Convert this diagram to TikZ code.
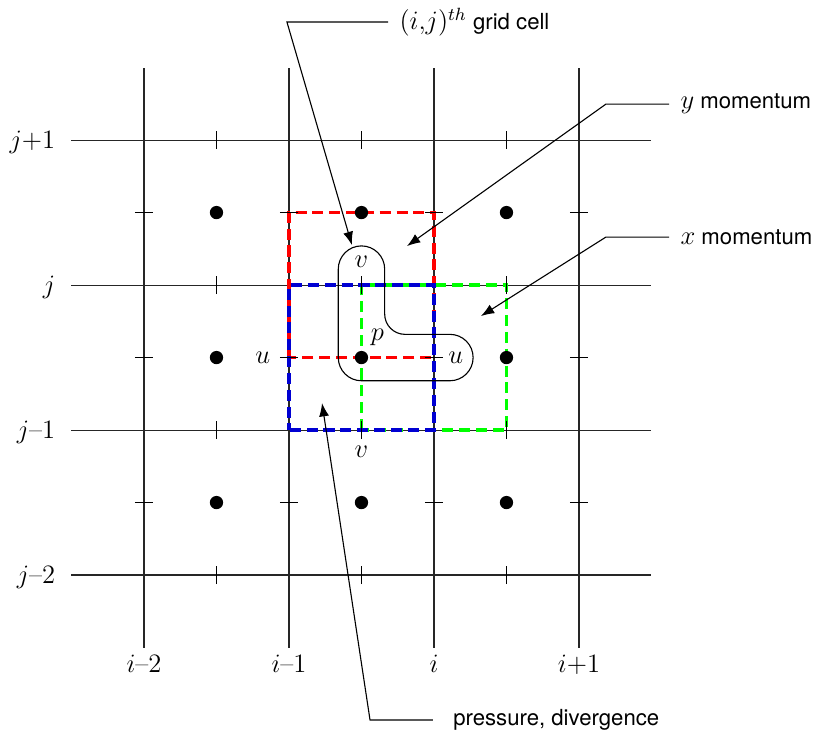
\documentclass[tikz,border=0pt]{standalone}
\usepackage{fontspec}
\newfontfamily\calloutfont{TeX Gyre Heros}
\usetikzlibrary{positioning, arrows.meta}
\definecolor{cellblue}{RGB}{0,0,210}

\begin{document}
\begin{tikzpicture}[
    x=2.3cm, y=2.3cm,
    gridline/.style={line width=0.5pt, black!85},
    tick_mark/.style={line width=0.7pt},
    site/.style={circle, fill, minimum size=6pt, inner sep=0pt},
    cell/.style={line width=1.6pt, dash pattern=on 5pt off 2.6pt},
    ymom_cell/.style={cell, red},
    xmom_cell/.style={cell, green},
    pres_cell/.style={cell, cellblue, dash phase=2pt},
    stencil/.style={line width=0.5pt},
    leader/.style={-{Latex[length=6pt, width=4.5pt]}, line width=0.5pt},
    callout/.style={font=\calloutfont, inner xsep=5pt, inner ysep=1pt, anchor=west},
    index_label/.style={font=\large, inner sep=0pt},
    var_label/.style={font=\large, inner sep=0pt}
]
    \useasboundingbox (-0.993,-1.110) rectangle (4.683,3.966);

    % --- GRID LINES ---
    \foreach \k in {0,...,3} {
        \draw[gridline] (\k,-0.5) -- (\k,3.5);
        \draw[gridline] (-0.5,\k) -- (3.5,\k);
    }

    % --- STAGGERED CELLS: y momentum, x momentum, pressure ---
    \draw[ymom_cell] (1,1.5) rectangle (2,2.5);
    \draw[xmom_cell] (1.5,1) rectangle (2.5,2);
    \draw[pres_cell] (1,1) rectangle (2,2);

    % --- TICKS at the cell faces ---
    \foreach \k in {0,...,3} {
        \foreach \m in {0,1,2} {
            \draw[tick_mark] ({\k-0.062},{\m+0.5}) -- ({\k+0.062},{\m+0.5});
            \draw[tick_mark] ({\m+0.5},{\k-0.062}) -- ({\m+0.5},{\k+0.062});
        }
    }

    % --- CELL CENTRES ---
    \foreach \k in {0,1,2}
        \foreach \m in {0,1,2}
            \node[site] (S\k\m) at ({\k+0.5},{\m+0.5}) {};

    % --- STENCIL OUTLINE (v, p, u) ---
    \draw[stencil] (1.34,2.11) arc[start angle=180, end angle=0, radius=0.16]
        -- (1.66,1.80) arc[start angle=180, end angle=270, radius=0.14]
        -- (2.11,1.66) arc[start angle=90, end angle=-90, radius=0.16]
        -- (1.5,1.34) arc[start angle=270, end angle=180, radius=0.16] -- cycle;

    % --- VARIABLE LABELS ---
    \node[var_label] (vN) at (1.5,2.16) {$v$};
    \node[var_label] (vS) at (1.5,0.85) {$v$};
    \node[var_label] (uW) at (0.82,1.5) {$u$};
    \node[var_label] (uE) at (2.15,1.5) {$u$};
    \node[var_label] (pC) at (1.61,1.64) {$p$};

    % --- INDEX LABELS ---
    \foreach \k/\txt in {0/{$i$--2}, 1/{$i$--1}, 2/{$i$}, 3/{$i$+1}}
        \node[index_label, anchor=base] (col\k) at (\k,-0.675) {\txt};
    \foreach \k/\txt in {0/{$j$--2}, 1/{$j$--1}, 2/{$j$}, 3/{$j$+1}}
        \node[index_label, anchor=base east] (row\k) at (-0.61,{\k-0.06}) {\txt};

    % --- CALLOUTS ---
    \node[callout] (cellTxt) at (1.683,3.814) {{\large$(i{,}j)^{th}$} grid cell};
    \coordinate (cellKink) at (0.986,3.814);
    \coordinate (cellTip) at (1.434,2.276);
    \draw[leader] (cellTxt.west) -- (cellKink) -- (cellTip);

    \node[callout] (ymomTxt) at (3.621,3.248) {{\large$y$} momentum};
    \coordinate (ymomKink) at (3.186,3.248);
    \coordinate (ymomTip) at (1.814,2.269);
    \draw[leader] (ymomTxt.west) -- (ymomKink) -- (ymomTip);

    \node[callout] (xmomTxt) at (3.621,2.331) {{\large$x$} momentum};
    \coordinate (xmomKink) at (3.186,2.331);
    \coordinate (xmomTip) at (2.324,1.786);
    \draw[leader] (xmomTxt.west) -- (xmomKink) -- (xmomTip);

    \node[callout, inner xsep=9pt] (presTxt) at (1.993,-1.0) {pressure, divergence};
    \coordinate (presKink) at (1.559,-1.0);
    \coordinate (presTip) at (1.228,1.186);
    \draw[leader] (presTxt.west) -- (presKink) -- (presTip);

\end{tikzpicture}
\end{document}
